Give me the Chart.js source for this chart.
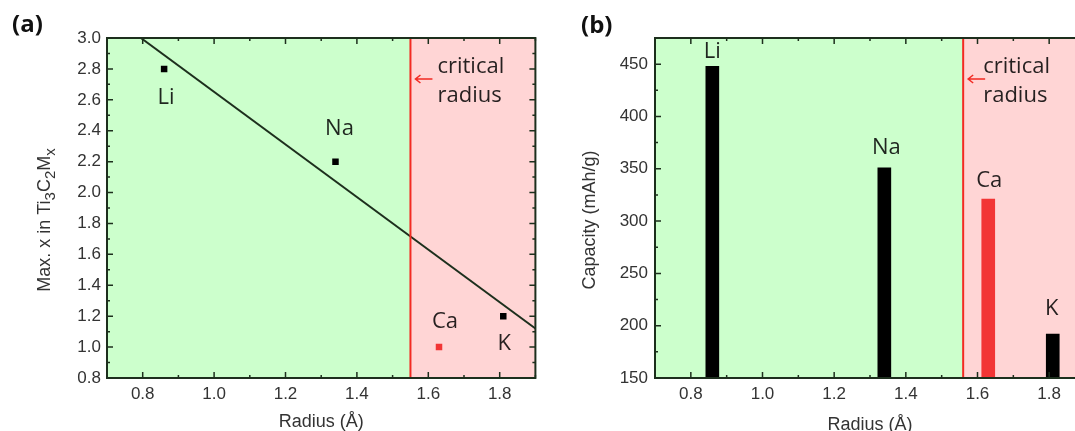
<!DOCTYPE html>
<html>
<head>
<meta charset="utf-8">
<script src="https://cdn.jsdelivr.net/npm/chart.js@4.4.1/dist/chart.umd.min.js"></script>
<style>
  html, body { margin: 0; padding: 0; background: #fff; overflow: hidden; }
  body { width: 1075px; height: 431px; position: relative; }
  .panel { position: absolute; top: 0; height: 431px; }
  #wrapA { left: 0; width: 540px; }
  #wrapB { left: 540px; width: 560px; }
  .tag { position: absolute; font: bold 24px "Open Sans", sans-serif; color: #111; }
</style>
</head>
<body>
<div class="panel" id="wrapA"><canvas id="chartA"></canvas></div>
<div class="panel" id="wrapB"><canvas id="chartB"></canvas></div>
<div class="tag" style="left:12px;top:6px">(a)</div>
<div class="tag" style="left:581px;top:7px">(b)</div>
<script>
// panel (a): max. x in Ti3C2Mx vs ion radius
const elementsA = ['Li', 'Na', 'Ca', 'K'];
const radiusA = [0.86, 1.34, 1.63, 1.81];
const maxX = [2.8, 2.2, 1.0, 1.2];
const fitRadius = [0.795, 1.9];
const fitMaxX = [3.0, 1.12];
const criticalA = 1.55;

// panel (b): capacity vs ion radius
const elementsB = ['Li', 'Na', 'Ca', 'K'];
const radiusB = [0.86, 1.34, 1.63, 1.81];
const capacity = [448, 351, 321, 192];
const criticalB = 1.56;

const xTicks = [0.8, 1.0, 1.2, 1.4, 1.6, 1.8];
const yTicksA = [0.8, 1.0, 1.2, 1.4, 1.6, 1.8, 2.0, 2.2, 2.4, 2.6, 2.8, 3.0];
const yTicksB = [150, 200, 250, 300, 350, 400, 450];

const GREEN = '#ccffcc';
const PINK = '#ffd5d5';
const RED = '#f22a22';
const DARK = '#1d2f1d';
const TICK_FONT = { family: '"Liberation Sans", Arial, sans-serif', size: 17 };
const ionColor = name => (name === 'Ca' ? '#f23535' : '#000');

const decor = {
  id: 'decor',
  beforeDatasetsDraw(chart, args, o) {
    const { ctx, chartArea: a, scales: { x } } = chart;
    const cx = x.getPixelForValue(o.critical);
    ctx.save();
    ctx.fillStyle = GREEN;
    ctx.fillRect(a.left, a.top, cx - a.left, a.bottom - a.top);
    ctx.fillStyle = PINK;
    ctx.fillRect(cx, a.top, a.right - cx, a.bottom - a.top);
    ctx.restore();
  },
  afterDatasetsDraw(chart, args, o) {
    const { ctx, chartArea: a, scales: { x, y } } = chart;
    const cx = x.getPixelForValue(o.critical);
    ctx.save();

    // critical radius line + arrow + text
    ctx.strokeStyle = RED;
    ctx.lineWidth = 2;
    ctx.beginPath();
    ctx.moveTo(cx, a.top);
    ctx.lineTo(cx, a.bottom);
    ctx.stroke();
    const ay = a.top + 41;
    ctx.lineWidth = 1.5;
    ctx.beginPath();
    ctx.moveTo(cx + 22, ay);
    ctx.lineTo(cx + 5, ay);
    ctx.moveTo(cx + 10, ay - 4);
    ctx.lineTo(cx + 5, ay);
    ctx.lineTo(cx + 10, ay + 4);
    ctx.stroke();
    ctx.fillStyle = 'rgba(0,0,0,0.85)';
    ctx.font = '22px "Open Sans", sans-serif';
    ctx.textAlign = 'left';
    ctx.textBaseline = 'alphabetic';
    ctx.fillText('critical', cx + o.textDx, a.top + 35);
    ctx.fillText('radius', cx + o.textDx, a.top + 64);

    // ion labels
    const meta = chart.getDatasetMeta(0);
    ctx.textAlign = 'center';
    ctx.textBaseline = 'middle';
    o.names.forEach((n, i) => {
      const el = meta.data[i];
      ctx.fillText(n, el.x + o.dx[i], el.y + o.dy[i]);
    });

    // frame
    ctx.strokeStyle = DARK;
    ctx.lineWidth = 2;
    ctx.strokeRect(a.left, a.top, a.right - a.left, a.bottom - a.top);

    // inward ticks on all four sides
    ctx.lineWidth = 1.5;
    ctx.beginPath();
    for (let v = x.min; v <= x.max + 1e-9; v += o.minorX) {
      const px = x.getPixelForValue(v);
      const len = xTicks.some(t => Math.abs(t - v) < 1e-6) ? 6 : 3;
      ctx.moveTo(px, a.bottom); ctx.lineTo(px, a.bottom - len);
      ctx.moveTo(px, a.top); ctx.lineTo(px, a.top + len);
    }
    for (let v = y.min; v <= y.max + 1e-9; v += o.minorY) {
      const py = y.getPixelForValue(v);
      const len = o.yTicks.some(t => Math.abs(t - v) < 1e-6) ? 6 : 3;
      ctx.moveTo(a.left, py); ctx.lineTo(a.left + len, py);
      ctx.moveTo(a.right, py); ctx.lineTo(a.right - len, py);
    }
    ctx.stroke();

    // axis titles
    ctx.fillStyle = '#333';
    ctx.font = '18px "Liberation Sans", Arial, sans-serif';
    ctx.textAlign = 'center';
    ctx.textBaseline = 'middle';
    ctx.fillText('Radius (Å)', (a.left + a.right) / 2, a.bottom + o.xTitleDy);

    ctx.translate(o.yTitleX, 220);
    ctx.rotate(-Math.PI / 2);
    ctx.textAlign = 'left';
    ctx.textBaseline = 'alphabetic';
    const fontOf = sub => (sub ? '15px' : '18px') + ' "Liberation Sans", Arial, sans-serif';
    let w = 0;
    o.yTitle.forEach(([t, sub]) => { ctx.font = fontOf(sub); w += ctx.measureText(t).width; });
    let pos = -w / 2;
    o.yTitle.forEach(([t, sub]) => {
      ctx.font = fontOf(sub);
      ctx.fillText(t, pos, sub ? 5 : 0);
      pos += ctx.measureText(t).width;
    });
    ctx.restore();
  }
};

function xAxis() {
  return {
    type: 'linear', min: 0.7, max: 1.9, offset: false,
    afterBuildTicks: s => { s.ticks = xTicks.map(v => ({ value: v })); },
    afterFit: s => { s.height = 53; },
    grid: { display: false, drawTicks: false },
    border: { display: false },
    ticks: { padding: 6, color: '#333', font: TICK_FONT, maxRotation: 0, autoSkip: false,
      callback: v => Number(v).toFixed(1) }
  };
}

function yAxis(min, max, ticks, width, pad, digits) {
  return {
    type: 'linear', min: min, max: max,
    afterBuildTicks: s => { s.ticks = ticks.map(v => ({ value: v })); },
    afterFit: s => { s.width = width; },
    grid: { display: false, drawTicks: false },
    border: { display: false },
    ticks: { padding: pad, color: '#333', font: TICK_FONT, autoSkip: false,
      callback: v => Number(v).toFixed(digits) }
  };
}

new Chart(document.getElementById('chartA'), {
  type: 'scatter',
  data: {
    datasets: [{
      data: radiusA.map((r, i) => ({ x: r, y: maxX[i] })),
      pointStyle: 'rect',
      pointRadius: 4.6,
      pointBorderWidth: 0,
      pointBackgroundColor: elementsA.map(ionColor)
    }, {
      type: 'line',
      data: fitRadius.map((r, i) => ({ x: r, y: fitMaxX[i] })),
      borderColor: DARK,
      borderWidth: 2,
      pointRadius: 0,
      fill: false
    }]
  },
  options: {
    responsive: true,
    maintainAspectRatio: false,
    animation: false,
    layout: { padding: { top: 38, right: 3, bottom: 0, left: 0 } },
    scales: { x: xAxis(), y: yAxis(0.8, 3.0, yTicksA, 107, 6, 1) },
    plugins: {
      legend: { display: false },
      tooltip: { enabled: false },
      decor: {
        critical: criticalA, textDx: 27, names: elementsA,
        dx: [2, 4, 6, 1], dy: [29, -33, -25, 28],
        minorX: 0.1, minorY: 0.1, yTicks: yTicksA,
        xTitleDy: 44, yTitleX: 50,
        yTitle: [['Max. x in Ti', 0], ['3', 1], ['C', 0], ['2', 1], ['M', 0], ['x', 1]]
      }
    }
  },
  plugins: [decor]
});

new Chart(document.getElementById('chartB'), {
  type: 'bar',
  data: {
    datasets: [{
      data: radiusB.map((r, i) => ({ x: r, y: capacity[i] })),
      backgroundColor: elementsB.map(ionColor),
      borderWidth: 0,
      barThickness: 13
    }]
  },
  options: {
    responsive: true,
    maintainAspectRatio: false,
    animation: false,
    layout: { padding: { top: 38, right: 15, bottom: 0, left: 0 } },
    scales: { x: xAxis(), y: yAxis(150, 475, yTicksB, 115, 7, 0) },
    plugins: {
      legend: { display: false },
      tooltip: { enabled: false },
      decor: {
        critical: criticalB, textDx: 20, names: elementsB,
        dx: [0, 2, 1, -1], dy: [-15, -20, -18, -25],
        minorX: 0.1, minorY: 25, yTicks: yTicksB,
        xTitleDy: 47, yTitleX: 55,
        yTitle: [['Capacity (mAh/g)', 0]]
      }
    }
  },
  plugins: [decor]
});
</script>
</body>
</html>
